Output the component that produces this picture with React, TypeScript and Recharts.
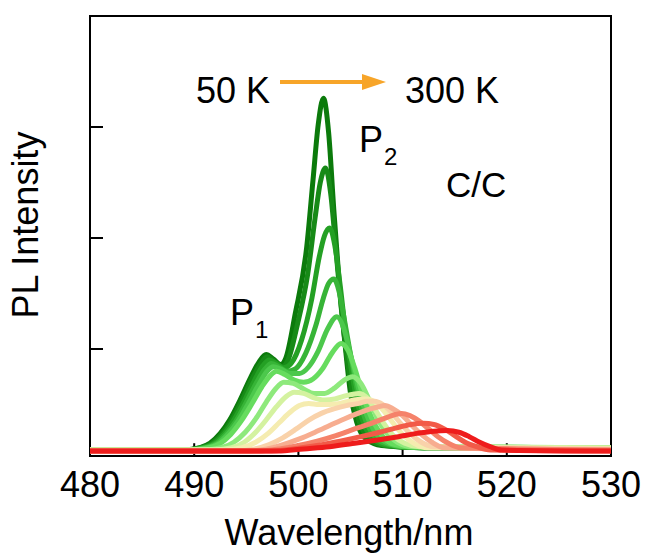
import { LineChart, Line, XAxis, YAxis, ReferenceArea, ReferenceLine } from "recharts";

// wavelength axis (nm) and the unlabeled intensity ticks
const wavelengthTicks = [480, 490, 500, 510, 520, 530];
const intensityTicks = [1, 2, 3];

const temps = [50, 70, 90, 110, 130, 150, 170, 190, 210, 230, 250, 270, 290, 300];
const colors = [
  "#0b7a0b", "#178a17", "#24a024", "#37b437", "#4cc84c", "#66dc5e", "#8ee97c",
  "#d4f2a0", "#f5ecb0", "#f9d2aa", "#f7ad90", "#f5826a", "#f25a48", "#ee1c1c",
];

// [wavelength, PL intensity]
const pl50 = [[480,0.09],[489,0.09],[490.5,0.11],[491.5,0.15],[492.5,0.24],[493.4,0.36],[494.4,0.54],[495.4,0.74],[496.2,0.88],[496.9,0.95],[497.6,0.91],[498.3,0.86],[498.8,0.92],[499.7,1.32],[500.8,1.92],[501.4,2.52],[501.9,3.02],[502.4,3.26],[502.9,2.95],[503.4,2.25],[503.9,1.62],[504.5,1.02],[505,0.6],[505.6,0.34],[506.5,0.19],[508,0.13],[512,0.11],[530,0.11]];
const pl70 = [[480,0.09],[489,0.09],[490.6,0.11],[491.7,0.15],[492.7,0.24],[493.6,0.36],[494.6,0.54],[495.6,0.74],[496.4,0.87],[497,0.93],[497.7,0.89],[498.4,0.84],[499,0.9],[499.9,1.22],[500.9,1.68],[501.6,2.18],[502.1,2.5],[502.6,2.63],[503.1,2.4],[503.6,1.9],[504.1,1.38],[504.7,0.9],[505.3,0.55],[505.9,0.33],[506.8,0.19],[508.3,0.13],[512,0.11],[530,0.11]];
const pl90 = [[480,0.09],[489.2,0.09],[490.8,0.11],[491.9,0.15],[492.9,0.24],[493.8,0.36],[494.8,0.53],[495.8,0.72],[496.6,0.85],[497.2,0.9],[497.9,0.87],[498.6,0.83],[499.3,0.87],[500.3,1.08],[501.3,1.46],[502,1.83],[502.5,2.02],[503,2.09],[503.5,1.93],[504,1.58],[504.5,1.18],[505.1,0.8],[505.7,0.5],[506.3,0.32],[507.2,0.19],[508.6,0.13],[512,0.11],[530,0.11]];
const pl110 = [[480,0.09],[489.4,0.09],[491,0.11],[492.1,0.15],[493.1,0.24],[494,0.35],[495,0.52],[496,0.7],[496.8,0.82],[497.4,0.87],[498.1,0.84],[498.9,0.8],[499.7,0.82],[500.7,0.96],[501.7,1.22],[502.4,1.46],[502.9,1.59],[503.4,1.63],[503.9,1.52],[504.4,1.27],[505,0.95],[505.6,0.65],[506.2,0.42],[506.9,0.27],[507.8,0.17],[509.2,0.13],[512,0.11],[530,0.11]];
const pl130 = [[480,0.09],[489.6,0.09],[491.2,0.11],[492.3,0.15],[493.3,0.24],[494.2,0.35],[495.2,0.51],[496.2,0.68],[497,0.8],[497.6,0.84],[498.3,0.82],[499.2,0.78],[500.1,0.78],[501,0.84],[501.9,0.98],[502.8,1.18],[503.7,1.29],[504.3,1.2],[504.9,0.99],[505.5,0.75],[506.1,0.53],[506.8,0.35],[507.6,0.22],[508.6,0.15],[510,0.12],[530,0.11]];
const pl150 = [[480,0.09],[489.8,0.09],[491.4,0.11],[492.5,0.15],[493.5,0.23],[494.5,0.35],[495.5,0.5],[496.5,0.66],[497.3,0.76],[497.9,0.8],[498.7,0.77],[499.6,0.72],[500.5,0.7],[501.4,0.73],[502.3,0.82],[503.2,0.96],[504.1,1.05],[504.8,0.98],[505.4,0.83],[506,0.64],[506.7,0.45],[507.4,0.31],[508.2,0.2],[509.2,0.14],[510.6,0.12],[530,0.11]];
const pl170 = [[480,0.09],[491,0.09],[492.6,0.11],[493.8,0.16],[494.9,0.25],[495.9,0.37],[496.9,0.52],[497.8,0.64],[498.6,0.7],[499.5,0.69],[500.5,0.64],[501.5,0.6],[502.5,0.6],[503.5,0.65],[504.4,0.72],[505.2,0.75],[506,0.69],[506.8,0.54],[507.6,0.37],[508.5,0.24],[509.5,0.16],[511,0.12],[530,0.11]];
const pl190 = [[480,0.09],[492,0.09],[493.6,0.11],[494.8,0.16],[495.9,0.25],[496.9,0.36],[497.9,0.48],[498.8,0.57],[499.6,0.61],[500.5,0.6],[501.5,0.56],[502.5,0.54],[503.5,0.55],[504.6,0.58],[505.8,0.6],[506.6,0.56],[507.4,0.45],[508.2,0.33],[509.1,0.22],[510.2,0.15],[511.6,0.12],[530,0.11]];
const pl210 = [[480,0.09],[493,0.09],[494.6,0.11],[495.9,0.16],[497.1,0.24],[498.2,0.34],[499.2,0.43],[500.1,0.49],[501,0.51],[502,0.5],[503,0.5],[504,0.51],[505.3,0.54],[506.5,0.55],[507.4,0.52],[508.3,0.43],[509.2,0.32],[510.1,0.22],[511.1,0.15],[512.4,0.11],[530,0.1]];
const pl230 = [[480,0.08],[494,0.08],[495.8,0.1],[497.2,0.14],[498.5,0.2],[499.8,0.28],[501,0.36],[502.2,0.42],[503.4,0.46],[504.6,0.49],[505.8,0.51],[506.6,0.53],[507.3,0.53],[508.1,0.5],[509,0.42],[509.9,0.32],[510.8,0.23],[511.8,0.16],[513,0.12],[530,0.1]];
const pl250 = [[480,0.08],[495,0.08],[497,0.1],[498.6,0.14],[500.1,0.19],[501.6,0.25],[503,0.31],[504.4,0.37],[505.7,0.42],[506.9,0.46],[507.7,0.48],[508.3,0.49],[509.1,0.46],[510,0.4],[510.9,0.31],[511.8,0.23],[512.8,0.16],[514,0.11],[530,0.09]];
const pl270 = [[480,0.08],[496,0.08],[498.2,0.1],[500,0.13],[501.8,0.17],[503.6,0.22],[505.4,0.28],[507,0.33],[508.4,0.38],[509.3,0.41],[509.9,0.42],[510.7,0.4],[511.6,0.35],[512.5,0.28],[513.4,0.21],[514.4,0.15],[515.6,0.11],[530,0.09]];
const pl290 = [[480,0.08],[497,0.08],[499.5,0.1],[501.8,0.13],[504,0.17],[506,0.21],[507.8,0.25],[509.4,0.29],[510.8,0.32],[512,0.33],[513,0.32],[514,0.28],[515,0.22],[516,0.16],[517.1,0.12],[518.4,0.09],[530,0.08]];
const pl300 = [[480,0.08],[498,0.08],[500.5,0.1],[503,0.12],[505.4,0.15],[507.6,0.18],[509.6,0.21],[511.4,0.24],[513,0.26],[514.3,0.265],[515.4,0.25],[516.4,0.21],[517.4,0.16],[518.4,0.12],[519.5,0.09],[530,0.08]];

const spectra = [pl50, pl70, pl90, pl110, pl130, pl150, pl170, pl190, pl210, pl230, pl250, pl270, pl290, pl300];

const Y_MIN = 0.036;
const Y_MAX = 4;
const FONT = "'Liberation Sans', Arial, sans-serif";

function WlTick(props: any) {
  const { x, y, payload } = props;
  return (
    <text x={x} y={y} dy={29} textAnchor="middle" fontSize={36} fontFamily={FONT} fill="#000">
      {payload.value}
    </text>
  );
}

export default function App() {
  return (
    <div style={{ position: "absolute", left: 0, top: 0, width: 646, height: 554, background: "#fff" }}>
      <LineChart width={646} height={554} margin={{ top: 16, right: 35, bottom: 38, left: 90 }}>
        <XAxis
          dataKey="wl"
          type="number"
          domain={[480, 530]}
          ticks={wavelengthTicks}
          allowDataOverflow
          axisLine={false}
          tickLine={false}
          tickSize={-12}
          tickMargin={24}
          height={60}
          tick={<WlTick />}
        />
        <YAxis
          type="number"
          domain={[Y_MIN, Y_MAX]}
          ticks={intensityTicks}
          allowDataOverflow
          width={0}
          axisLine={false}
          tickLine={false}
          tick={false}
        />
        {/* inward tick marks */}
        {wavelengthTicks.slice(1, -1).map((t) => (
          <ReferenceLine
            key={`xt${t}`}
            segment={[{ x: t, y: Y_MIN }, { x: t, y: Y_MIN + 0.115 }]}
            stroke="#000"
            strokeWidth={2}
            ifOverflow="visible"
          />
        ))}
        {intensityTicks.map((t) => (
          <ReferenceLine
            key={`yt${t}`}
            segment={[{ x: 480, y: t }, { x: 481.25, y: t }]}
            stroke="#000"
            strokeWidth={2}
            ifOverflow="visible"
          />
        ))}
        <ReferenceArea x1={480} x2={530} y1={Y_MIN} y2={Y_MAX} fill="none" stroke="#000" strokeWidth={2} ifOverflow="visible" />
        {spectra.map((s, i) => (
          <Line
            key={temps[i]}
            name={`${temps[i]} K`}
            data={s.map(([wl, pl]) => ({ wl, pl }))}
            dataKey="pl"
            type="monotone"
            stroke={colors[i]}
            strokeWidth={5}
            dot={false}
            isAnimationActive={false}
          />
        ))}
      </LineChart>
      <svg width={646} height={554} style={{ position: "absolute", left: 0, top: 0, pointerEvents: "none" }} fontFamily={FONT} fill="#000">
        <text x={38} y={225} transform="rotate(-90 38 225)" textAnchor="middle" fontSize={36}>PL Intensity</text>
        <text x={349} y={545} textAnchor="middle" fontSize={36}>Wavelength/nm</text>
        <text x={196} y={103} fontSize={36}>50 K</text>
        <text x={405} y={103} fontSize={36}>300 K</text>
        <line x1={280} y1={82} x2={366} y2={82} stroke="#f7a529" strokeWidth={4} />
        <polygon points="362,74 386,82 362,90" fill="#f7a529" />
        <text x={359} y={152} fontSize={36}>P</text>
        <text x={384} y={165} fontSize={24}>2</text>
        <text x={446} y={197} fontSize={35}>C/C</text>
        <text x={230} y={325} fontSize={36}>P</text>
        <text x={255} y={338} fontSize={24}>1</text>
      </svg>
    </div>
  );
}
